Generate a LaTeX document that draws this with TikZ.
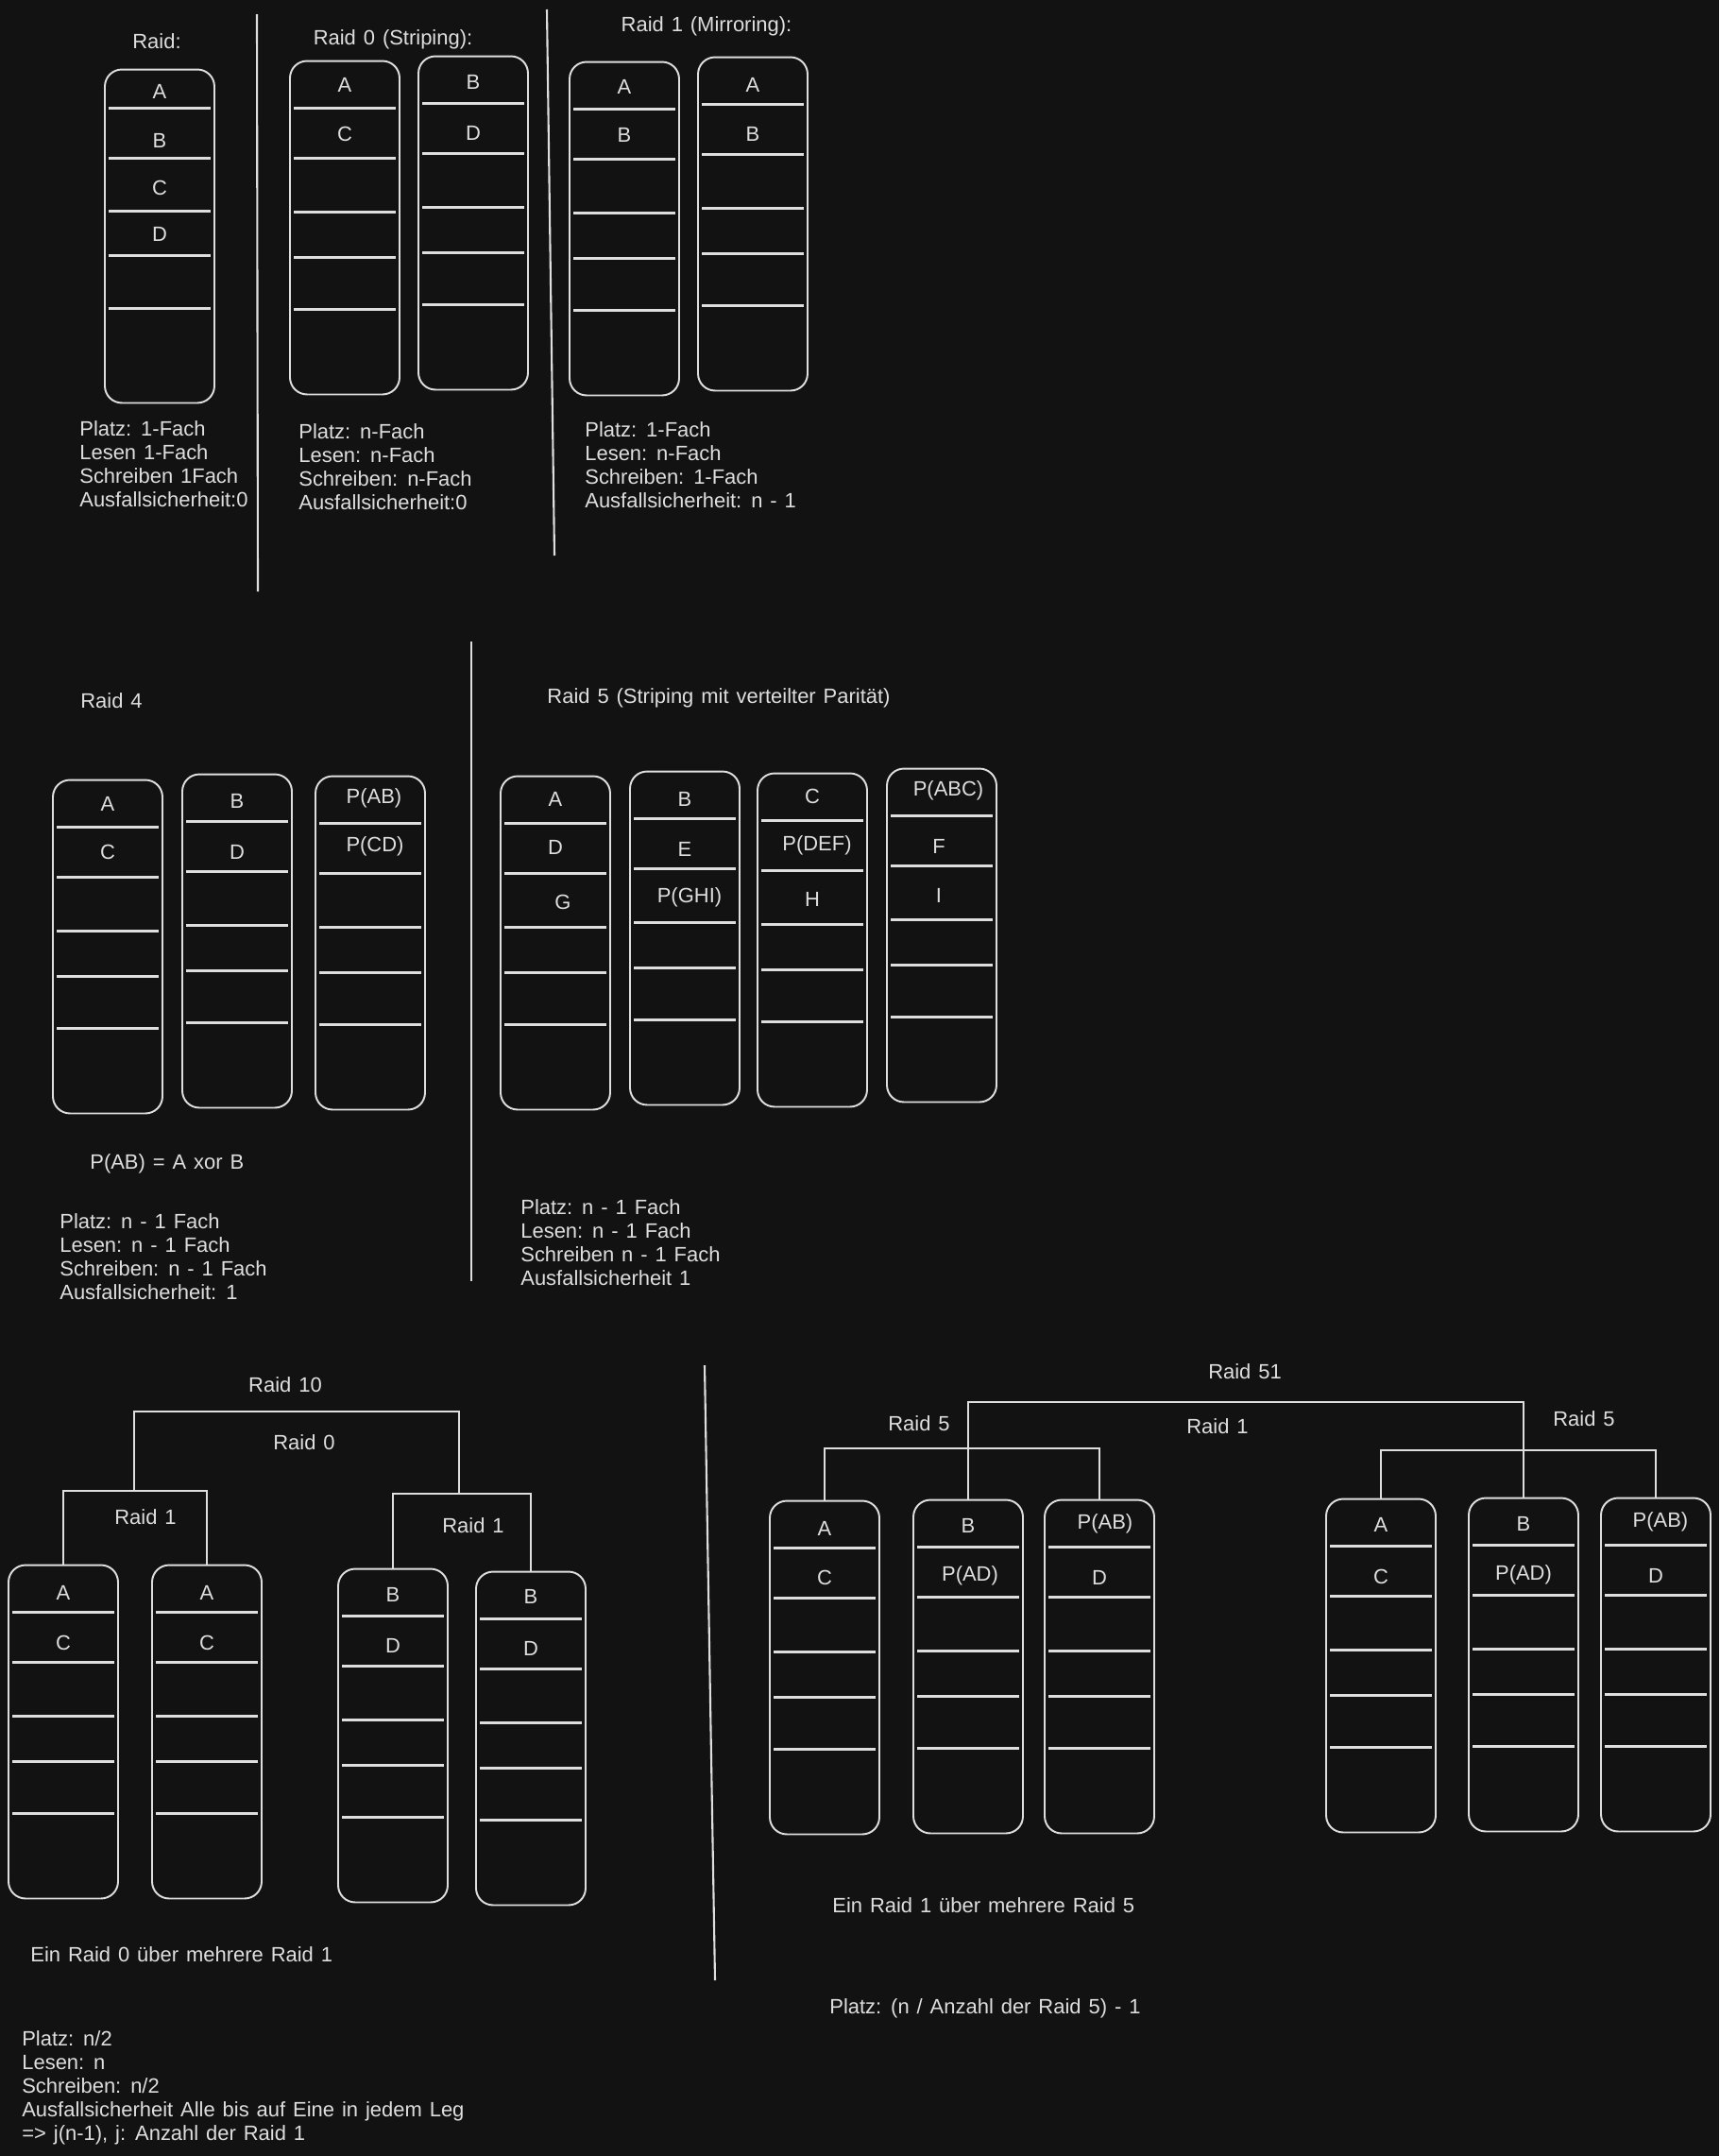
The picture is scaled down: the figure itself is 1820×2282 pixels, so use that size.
\documentclass[tikz,border=0pt]{standalone}
\usepackage{fontspec}
\setmainfont{Liberation Sans}[WordSpace=1.3]
\usepackage{xcolor}
\usetikzlibrary{calc, positioning}

\definecolor{board}{HTML}{121212}
\definecolor{chalk}{HTML}{DEDEDE}

\begin{document}
\begin{tikzpicture}[
    x=0.02cm, y=-0.02cm,
    disk/.style={rectangle, draw=chalk, line width=1.1pt, rounded corners=0.36cm, minimum width=2.32cm, minimum height=7.06cm, inner sep=0pt},
    slot/.style={draw=chalk, line width=1.6pt},
    wire/.style={draw=chalk, line width=1.4pt},
    divider/.style={draw=chalk, line width=1.2pt},
    cell/.style={text=chalk, inner sep=0pt, font=\fontsize{12.5}{14.2}\selectfont},
    info/.style={text=chalk, inner sep=0pt, anchor=north west, align=left, font=\fontsize{12.5}{14.2}\selectfont}
]
    \fill[board] (0,0) rectangle (1820,2282);
    \useasboundingbox (0,0) rectangle (1820,2282);

    % Dividers
    \draw[divider] (272,15) -- (273,626);
    \draw[divider] (579,10) -- (587,588);
    \draw[divider] (499,679) -- (499,1356);
    \draw[divider] (746,1445) -- (757,2096);

    % Raid (single disk)
    \node[cell] (raidtitle) at (166,44) {Raid:};
    \node[disk] (rd) at (169,250) {};
    \foreach \o in {42,95,151,198,254}
        \draw[slot] ($(rd.north west)+(5,\o)$) -- ($(rd.north east)+(-5,\o)$);
    \node[cell] (rd-a) at ($(rd.north)+(0,24)$) {A};
    \node[cell] (rd-b) at ($(rd.north)+(0,76)$) {B};
    \node[cell] (rd-c) at ($(rd.north)+(0,126)$) {C};
    \node[cell] (rd-d) at ($(rd.north)+(0,175)$) {D};
    \node[info] (rdinfo) at (84,445) {Platz: 1-Fach\\Lesen 1-Fach\\Schreiben 1Fach\\Ausfallsicherheit:0};

    % Raid 0
    \node[cell] (r0title) at (416,42) {Raid 0 (Striping):};
    \node[disk] (r0a) at (365,241) {};
    \node[disk] (r0b) at (501,236) {};
    \node[cell] (r0a-1) at ($(r0a.north)+(0,26)$) {A};
    \node[cell] (r0a-2) at ($(r0a.north)+(0,78)$) {C};
    \node[cell] (r0b-1) at ($(r0b.north)+(0,28)$) {B};
    \node[cell] (r0b-2) at ($(r0b.north)+(0,82)$) {D};
    \node[info] (r0info) at (316,448) {Platz: n-Fach\\Lesen: n-Fach\\Schreiben: n-Fach\\Ausfallsicherheit:0};

    % Raid 1
    \node[cell] (r1title) at (748,28) {Raid 1 (Mirroring):};
    \node[disk] (r1a) at (661,242) {};
    \node[disk] (r1b) at (797,237) {};
    \node[cell] (r1a-1) at ($(r1a.north)+(0,27)$) {A};
    \node[cell] (r1a-2) at ($(r1a.north)+(0,78)$) {B};
    \node[cell] (r1b-1) at ($(r1b.north)+(0,30)$) {A};
    \node[cell] (r1b-2) at ($(r1b.north)+(0,82)$) {B};
    \node[info] (r1info) at (619,446) {Platz: 1-Fach\\Lesen: n-Fach\\Schreiben: 1-Fach\\Ausfallsicherheit: n - 1};

    % Raid 4
    \node[cell] (r4title) at (118,742) {Raid 4};
    \node[disk] (r4a) at (114,1002) {};
    \node[disk] (r4b) at (251,996) {};
    \node[disk] (r4c) at (392,998) {};
    \node[cell] (r4a-1) at ($(r4a.north)+(0,26)$) {A};
    \node[cell] (r4a-2) at ($(r4a.north)+(0,77)$) {C};
    \node[cell] (r4b-1) at ($(r4b.north)+(0,29)$) {B};
    \node[cell] (r4b-2) at ($(r4b.north)+(0,83)$) {D};
    \node[cell] (r4c-1) at ($(r4c.north)+(4,24)$) {P(AB)};
    \node[cell] (r4c-2) at ($(r4c.north)+(5,75)$) {P(CD)};
    \node[cell] (xorline) at (95,1232) [anchor=west] {P(AB) = A xor B};
    \node[info] (r4info) at (63,1284) {Platz: n - 1 Fach\\Lesen: n - 1 Fach\\Schreiben: n - 1 Fach\\Ausfallsicherheit: 1};

    % Raid 5
    \node[cell] (r5title) at (761,739) {Raid 5 (Striping mit verteilter Parität)};
    \node[disk] (r5a) at (588,998) {};
    \node[disk] (r5b) at (725,993) {};
    \node[disk] (r5c) at (860,995) {};
    \node[disk] (r5d) at (997,990) {};
    \node[cell] (r5a-1) at ($(r5a.north)+(0,25)$) {A};
    \node[cell] (r5a-2) at ($(r5a.north)+(0,76)$) {D};
    \node[cell] (r5a-3) at ($(r5a.north)+(8,134)$) {G};
    \node[cell] (r5b-1) at ($(r5b.north)+(0,30)$) {B};
    \node[cell] (r5b-2) at ($(r5b.north)+(0,83)$) {E};
    \node[cell] (r5b-3) at ($(r5b.north)+(5,134)$) {P(GHI)};
    \node[cell] (r5c-1) at ($(r5c.north)+(0,25)$) {C};
    \node[cell] (r5c-2) at ($(r5c.north)+(5,77)$) {P(DEF)};
    \node[cell] (r5c-3) at ($(r5c.north)+(0,134)$) {H};
    \node[cell] (r5d-1) at ($(r5d.north)+(7,24)$) {P(ABC)};
    \node[cell] (r5d-2) at ($(r5d.north)+(-3,83)$) {F};
    \node[cell] (r5d-3) at ($(r5d.north)+(-3,135)$) {I};
    \node[info] (r5info) at (551,1269) {Platz: n - 1 Fach\\Lesen: n - 1 Fach\\Schreiben n - 1 Fach\\Ausfallsicherheit 1};

    % Raid 10
    \node[cell] (r10title) at (302,1466) {Raid 10};
    \node[cell] (r10mid) at (322,1527) {Raid 0};
    \node[cell] (r10left) at (154,1606) {Raid 1};
    \node[cell] (r10right) at (501,1615) {Raid 1};
    \node[disk] (r10a) at (67,1833) {};
    \node[disk] (r10b) at (219,1833) {};
    \node[disk] (r10c) at (416,1837) {};
    \node[disk] (r10d) at (562,1840) {};
    \node[cell] (r10a-1) at ($(r10a.north)+(0,30)$) {A};
    \node[cell] (r10a-2) at ($(r10a.north)+(0,83)$) {C};
    \node[cell] (r10b-1) at ($(r10b.north)+(0,30)$) {A};
    \node[cell] (r10b-2) at ($(r10b.north)+(0,83)$) {C};
    \node[cell] (r10c-1) at ($(r10c.north)+(0,28)$) {B};
    \node[cell] (r10c-2) at ($(r10c.north)+(0,82)$) {D};
    \node[cell] (r10d-1) at ($(r10d.north)+(0,27)$) {B};
    \node[cell] (r10d-2) at ($(r10d.north)+(0,82)$) {D};
    \coordinate (r1lbar) at (142,1578);
    \coordinate (r1rbar) at (486,1581);
    \coordinate (r0bar) at (300,1494);
    \draw[wire] (r10a.north) |- (r1lbar) -| (r10b.north);
    \draw[wire] (r10c.north) |- (r1rbar) -| (r10d.north);
    \draw[wire] (r1lbar) |- (r0bar) -| (r1rbar);
    \node[cell] (r10note) at (32,2069) [anchor=west] {Ein Raid 0 über mehrere Raid 1};
    \node[info] (r10info) at (23,2149) {Platz: n/2\\Lesen: n\\Schreiben: n/2\\Ausfallsicherheit Alle bis auf Eine in jedem Leg\\=> j(n-1), j: Anzahl der Raid 1};

    % Raid 51
    \node[cell] (r51title) at (1318,1452) {Raid 51};
    \node[cell] (r51left) at (973,1507) {Raid 5};
    \node[cell] (r51mid) at (1289,1510) {Raid 1};
    \node[cell] (r51right) at (1677,1502) {Raid 5};
    \node[disk] (r51a) at (873,1765) {};
    \node[disk] (r51b) at (1025,1764) {};
    \node[disk] (r51c) at (1164,1764) {};
    \node[disk] (r51d) at (1462,1763) {};
    \node[disk] (r51e) at (1613,1762) {};
    \node[disk] (r51f) at (1753,1762) {};
    \node[cell] (r51a-1) at ($(r51a.north)+(0,30)$) {A};
    \node[cell] (r51a-2) at ($(r51a.north)+(0,82)$) {C};
    \node[cell] (r51b-1) at ($(r51b.north)+(0,28)$) {B};
    \node[cell] (r51b-2) at ($(r51b.north)+(2,81)$) {P(AD)};
    \node[cell] (r51c-1) at ($(r51c.north)+(6,26)$) {P(AB)};
    \node[cell] (r51c-2) at ($(r51c.north)+(0,83)$) {D};
    \node[cell] (r51d-1) at ($(r51d.north)+(0,28)$) {A};
    \node[cell] (r51d-2) at ($(r51d.north)+(0,83)$) {C};
    \node[cell] (r51e-1) at ($(r51e.north)+(0,28)$) {B};
    \node[cell] (r51e-2) at ($(r51e.north)+(0,82)$) {P(AD)};
    \node[cell] (r51f-1) at ($(r51f.north)+(5,26)$) {P(AB)};
    \node[cell] (r51f-2) at ($(r51f.north)+(0,83)$) {D};
    \coordinate (r5lbar) at (1020,1533);
    \coordinate (r5rbar) at (1610,1535);
    \coordinate (r51bar) at (1300,1484);
    \draw[wire] (r51a.north) |- (r5lbar) -| (r51c.north);
    \draw[wire] (r51d.north) |- (r5rbar) -| (r51f.north);
    \draw[wire] (r51b.north) |- (r51bar) -| (r51e.north);
    \node[cell] (r51note) at (881,2017) [anchor=west] {Ein Raid 1 über mehrere Raid 5};
    \node[cell] (r51info) at (878,2126) [anchor=west] {Platz: (n / Anzahl der Raid 5) - 1};

    % Slots on every striped disk
    \foreach \d in {r0a,r0b,r1a,r1b,r4a,r4b,r4c,r5a,r5b,r5c,r5d,r10a,r10b,r10c,r10d,r51a,r51b,r51c,r51d,r51e,r51f}
        \foreach \o in {51,104,161,209,264}
            \draw[slot] ($(\d.north west)+(5,\o)$) -- ($(\d.north east)+(-5,\o)$);
\end{tikzpicture}
\end{document}
